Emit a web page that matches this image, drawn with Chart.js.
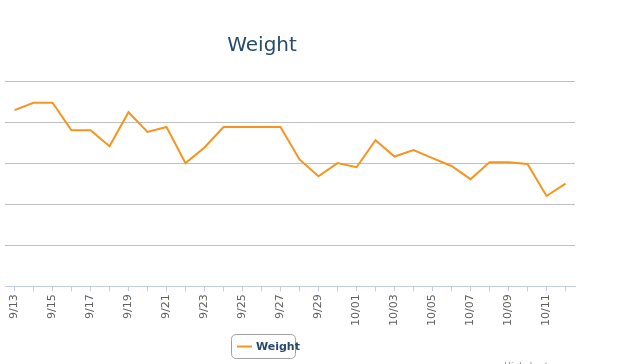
<!DOCTYPE html>
<html>
<head>
<meta charset="utf-8">
<script src="https://cdn.jsdelivr.net/npm/chart.js@4/dist/chart.umd.min.js"></script>
<style>
html,body{margin:0;padding:0;background:#fff;}
#wrap{width:640px;height:364px;position:relative;}
</style>
</head>
<body>
<div id="wrap"><canvas id="c" width="640" height="364"></canvas></div>
<script>
const chartTitle = "Weight";
const seriesName = "Weight";
const categories = ["9/13","9/14","9/15","9/16","9/17","9/18","9/19","9/20","9/21","9/22","9/23","9/24","9/25","9/26","9/27","9/28","9/29","9/30","10/01","10/02","10/03","10/04","10/05","10/06","10/07","10/08","10/09","10/10","10/11","10/12"];
const weightValues = [182.9,184.7,184.7,178.0,178.0,174.1,182.4,177.6,178.8,170.0,173.8,178.8,178.8,178.8,178.8,170.9,166.8,170.0,169.0,175.6,171.6,173.2,171.2,169.3,166.1,170.2,170.2,169.8,162.0,165.0];
const yTicks = [140,150,160,170,180,190];
const creditText = "Highcharts.com";

const overlay = {
  id: 'overlay',
  afterDraw(chart) {
    const ctx = chart.ctx;
    ctx.save();
    // title
    ctx.fillStyle = '#274b6d';
    ctx.font = '20px "DejaVu Sans", sans-serif';
    ctx.textAlign = 'center';
    ctx.textBaseline = 'alphabetic';
    ctx.fillText(chartTitle, 262, 51);
    // legend
    const ds = chart.data.datasets[0];
    const bx = 231.5, by = 334.5, bw = 64, bh = 24, r = 5;
    ctx.beginPath();
    ctx.moveTo(bx + r, by);
    ctx.lineTo(bx + bw - r, by);
    ctx.quadraticCurveTo(bx + bw, by, bx + bw, by + r);
    ctx.lineTo(bx + bw, by + bh - r);
    ctx.quadraticCurveTo(bx + bw, by + bh, bx + bw - r, by + bh);
    ctx.lineTo(bx + r, by + bh);
    ctx.quadraticCurveTo(bx, by + bh, bx, by + bh - r);
    ctx.lineTo(bx, by + r);
    ctx.quadraticCurveTo(bx, by, bx + r, by);
    ctx.closePath();
    ctx.strokeStyle = '#a0a0a0';
    ctx.lineWidth = 1;
    ctx.stroke();
    ctx.beginPath();
    ctx.moveTo(237, 346.5);
    ctx.lineTo(252, 346.5);
    ctx.strokeStyle = ds.borderColor;
    ctx.lineWidth = 2;
    ctx.stroke();
    ctx.fillStyle = '#274b6d';
    ctx.font = 'bold 11px "DejaVu Sans", sans-serif';
    ctx.textAlign = 'left';
    ctx.textBaseline = 'middle';
    ctx.fillText(ds.label, 256, 347);
    // credit
    ctx.fillStyle = '#909090';
    ctx.font = '9px "DejaVu Sans", sans-serif';
    ctx.textAlign = 'right';
    ctx.textBaseline = 'alphabetic';
    ctx.fillText(creditText, 575, 369);
    ctx.restore();
  }
};

new Chart(document.getElementById('c'), {
  type: 'line',
  data: {
    labels: categories,
    datasets: [{
      label: seriesName,
      data: weightValues,
      borderColor: '#f7941d',
      backgroundColor: '#f7941d',
      borderWidth: 2,
      pointRadius: 0,
      tension: 0,
      fill: false
    }]
  },
  options: {
    responsive: false,
    animation: false,
    layout: { padding: { left: 5, right: 65, top: 81, bottom: 35 } },
    plugins: { legend: { display: false }, title: { display: false }, tooltip: { enabled: false } },
    scales: {
      x: {
        offset: true,
        grid: { display: true, offset: false, drawOnChartArea: false, drawTicks: true, tickLength: 5, color: '#c0d0e0' },
        border: { display: true, color: '#c0d0e0', width: 1 },
        ticks: {
          autoSkip: false,
          maxRotation: 90,
          minRotation: 90,
          padding: 3,
          color: '#606060',
          font: { family: '"DejaVu Sans", sans-serif', size: 11 },
          callback: function(v, i) { return i % 2 === 0 ? categories[i] : ''; }
        }
      },
      y: {
        min: yTicks[0],
        max: yTicks[yTicks.length - 1],
        afterBuildTicks: (axis) => { axis.ticks = yTicks.map(v => ({ value: v })); },
        ticks: { display: false },
        grid: { color: '#c0c0c0', drawTicks: false },
        border: { display: false }
      }
    }
  },
  plugins: [overlay]
});
</script>
</body>
</html>
